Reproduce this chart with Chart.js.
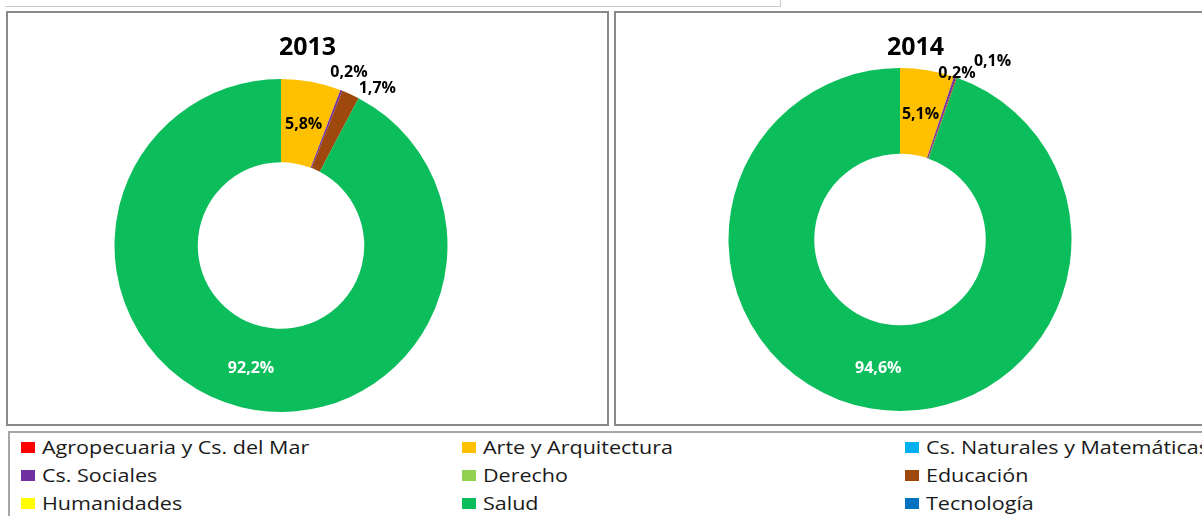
<!DOCTYPE html>
<html>
<head>
<meta charset="utf-8">
<script src="https://cdn.jsdelivr.net/npm/chart.js@4.4.1/dist/chart.umd.min.js"></script>
<style>
  html, body { margin: 0; padding: 0; background: #fff; }
  body { width: 1202px; height: 516px; position: relative; overflow: hidden; font-family: 'Open Sans', sans-serif; }
  .topbox { position: absolute; left: 5px; top: -10px; width: 775px; height: 16px; border-bottom: 1px solid #c8c8c8; border-right: 1px solid #c8c8c8; }
  .panel { position: absolute; top: 11px; width: 599px; height: 411px; border: 2px solid #8a8a8a; }
  .panel canvas { position: absolute; left: 0; top: 0; }
  .ptitle { position: absolute; left: 0; width: 100%; top: 15px; text-align: center; font-weight: bold; font-size: 25px; line-height: 34px; color: #000; }
  #legend { position: absolute; left: 8px; top: 431px; width: 1210px; height: 100px; border: 2px solid #a6a6a6; box-sizing: border-box;
            display: grid; grid-template-columns: 441px 443px auto; grid-auto-rows: 28px; padding-left: 11px; }
  #legend .item { display: flex; align-items: center; font-size: 18px; color: #1a1a1a; white-space: nowrap; }
  #legend .sw { width: 14px; height: 11px; margin-right: 7px; flex: none; }
  #legend .tx { display: inline-block; transform: scaleX(1.195); transform-origin: left center; }
</style>
</head>
<body>
<div class="topbox"></div>

<div class="panel" style="left:6px;">
  <canvas id="c2013" width="599" height="411"></canvas>
  <div class="ptitle">2013</div>
</div>
<div class="panel" style="left:614px;">
  <canvas id="c2014" width="599" height="411"></canvas>
  <div class="ptitle">2014</div>
</div>

<div id="legend"></div>

<script>
// Datos
const categories = [
    'Agropecuaria y Cs. del Mar',
    'Arte y Arquitectura',
    'Cs. Naturales y Matemáticas',
    'Cs. Sociales',
    'Derecho',
    'Educación',
    'Humanidades',
    'Salud',
    'Tecnología'
];
const values2013 = [0, 5.8, 0, 0.2, 0, 1.7, 0, 92.2, 0];
const values2014 = [0, 5.1, 0, 0.2, 0, 0.1, 0, 94.6, 0];
const colors = ['#FF0000', '#FFC000', '#00B0F0', '#7030A0', '#92D050', '#9E480E', '#FFFF00', '#0BBD5B', '#0070C0'];

Chart.defaults.font.family = "'Open Sans', sans-serif";

// Etiquetas de porcentaje sobre cada sector
const pctLabels = {
    id: 'pctLabels',
    afterDatasetsDraw(chart, args, opts) {
        const { ctx } = chart;
        const meta = chart.getDatasetMeta(0);
        const data = chart.data.datasets[0].data;
        ctx.save();
        ctx.font = 'bold 16px "Open Sans"';
        ctx.textAlign = 'center';
        ctx.textBaseline = 'middle';
        meta.data.forEach((arc, i) => {
            const v = data[i];
            if (!v) return;
            const p = arc.getProps(['x', 'y', 'startAngle', 'endAngle', 'innerRadius', 'outerRadius'], true);
            const mid = (p.startAngle + p.endAngle) / 2;
            let r, color = '#000';
            if (v > 3) {
                r = (p.innerRadius + p.outerRadius) / 2;
                if (v > 50) color = '#fff';
            } else {
                r = p.outerRadius + opts.offset;
            }
            const n = (opts.nudge && opts.nudge[i]) || [0, 0];
            ctx.fillStyle = color;
            ctx.fillText(v.toFixed(1).replace('.', ',') + '%', p.x + r * Math.cos(mid) + n[0], p.y + r * Math.sin(mid) + n[1] + 2);
        });
        ctx.restore();
    }
};

function createDonut(canvasId, values, padding, labelOpts) {
    const ctx = document.getElementById(canvasId);
    return new Chart(ctx, {
        type: 'doughnut',
        data: {
            labels: categories,
            datasets: [{
                data: values,
                backgroundColor: colors,
                borderWidth: 0
            }]
        },
        options: {
            responsive: false,
            animation: false,
            cutout: '50%',
            layout: { padding: padding },
            plugins: {
                legend: { display: false },
                tooltip: { enabled: false },
                pctLabels: labelOpts
            }
        },
        plugins: [pctLabels]
    });
}

const chart2013 = createDonut('c2013', values2013,
    { left: 0, right: 53, top: 66, bottom: 12 },
    { offset: 21, nudge: { 5: [18, 11] } });
const chart2014 = createDonut('c2014', values2014,
    { left: 0, right: 31, top: 55, bottom: 13 },
    { offset: 6, nudge: { 5: [34, -12] } });

// Leyenda HTML en tres columnas
const legendEl = document.getElementById('legend');
const items = Chart.overrides.doughnut.plugins.legend.labels.generateLabels(chart2013);
items.forEach(it => {
    const d = document.createElement('div');
    d.className = 'item';
    d.innerHTML = '<span class="sw" style="background:' + it.fillStyle + '"></span><span class="tx">' + it.text + '</span>';
    legendEl.appendChild(d);
});
</script>
</body>
</html>
